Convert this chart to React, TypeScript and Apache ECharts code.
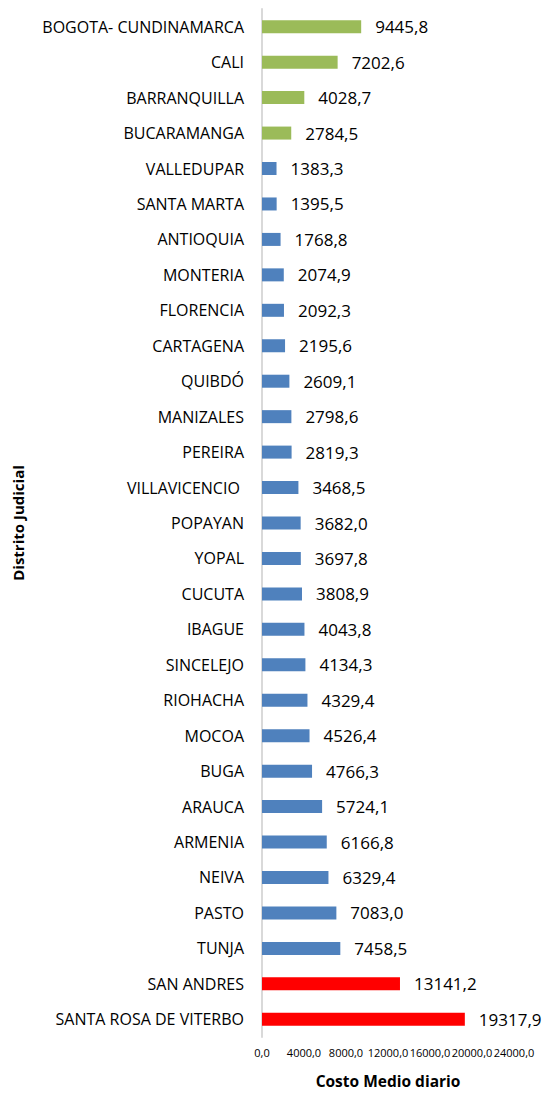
import React, { useEffect, useRef } from "react";
import * as echarts from "echarts";

const categories = [
  "BOGOTA- CUNDINAMARCA", "CALI", "BARRANQUILLA", "BUCARAMANGA", "VALLEDUPAR",
  "SANTA MARTA", "ANTIOQUIA", "MONTERIA", "FLORENCIA", "CARTAGENA", "QUIBDÓ",
  "MANIZALES", "PEREIRA", "VILLAVICENCIO ", "POPAYAN", "YOPAL", "CUCUTA", "IBAGUE",
  "SINCELEJO", "RIOHACHA", "MOCOA", "BUGA", "ARAUCA", "ARMENIA", "NEIVA", "PASTO",
  "TUNJA", "SAN ANDRES", "SANTA ROSA DE VITERBO",
];
const values = [
  9445.8, 7202.6, 4028.7, 2784.5, 1383.3, 1395.5, 1768.8, 2074.9, 2092.3, 2195.6,
  2609.1, 2798.6, 2819.3, 3468.5, 3682.0, 3697.8, 3808.9, 4043.8, 4134.3, 4329.4,
  4526.4, 4766.3, 5724.1, 6166.8, 6329.4, 7083.0, 7458.5, 13141.2, 19317.9,
];
const groups = [
  "g", "g", "g", "g", "b", "b", "b", "b", "b", "b", "b", "b", "b", "b", "b", "b", "b",
  "b", "b", "b", "b", "b", "b", "b", "b", "b", "b", "r", "r",
];
const groupColors: Record<string, string> = { g: "#9BBB59", b: "#4F81BD", r: "#FF0000" };
const xTicks = { min: 0, max: 24000, interval: 4000 };

const fmt = (v: number) => v.toFixed(1).replace(".", ",");

export default function App() {
  const ref = useRef<HTMLDivElement>(null);
  useEffect(() => {
    if (!ref.current) return;
    const chart = echarts.init(ref.current, null, { renderer: "svg" });
    const font = "'Open Sans', sans-serif";
    chart.setOption({
      animation: false,
      textStyle: { fontFamily: font },
      grid: { left: 262, right: 29, top: 9, bottom: 53 },
      xAxis: {
        type: "value",
        min: xTicks.min,
        max: xTicks.max,
        interval: xTicks.interval,
        splitLine: { show: false },
        axisLine: { show: false },
        axisTick: { show: false },
        axisLabel: {
          color: "#000",
          fontSize: 11,
          fontFamily: font,
          margin: 10,
          formatter: (v: number) => fmt(v),
        },
        name: "Costo Medio diario",
        nameLocation: "middle",
        nameGap: 36,
        nameTextStyle: { fontSize: 15.5, fontWeight: "bold", color: "#000", fontFamily: font },
      },
      yAxis: {
        type: "category",
        data: categories,
        inverse: true,
        axisLine: { show: true, lineStyle: { color: "#D9D9D9", width: 2 } },
        axisTick: { show: false },
        axisLabel: { color: "#000", fontSize: 16, fontFamily: font, margin: 18 },
        name: "Distrito Judicial",
        nameLocation: "middle",
        nameGap: 237,
        nameRotate: 90,
        nameTextStyle: { fontSize: 15, fontWeight: "bold", color: "#000", fontFamily: font },
      },
      series: [
        {
          type: "bar",
          barWidth: 13,
          data: values.map((v, i) => ({ value: v, itemStyle: { color: groupColors[groups[i]] } })),
          label: {
            show: true,
            position: "right",
            distance: 14,
            color: "#000",
            fontSize: 17,
            fontFamily: font,
            formatter: (p: any) => fmt(p.value),
          },
        },
      ],
    });
    return () => chart.dispose();
  }, []);
  return <div ref={ref} style={{ width: 543, height: 1094, position: "absolute", left: 0, top: 0 }} />;
}
